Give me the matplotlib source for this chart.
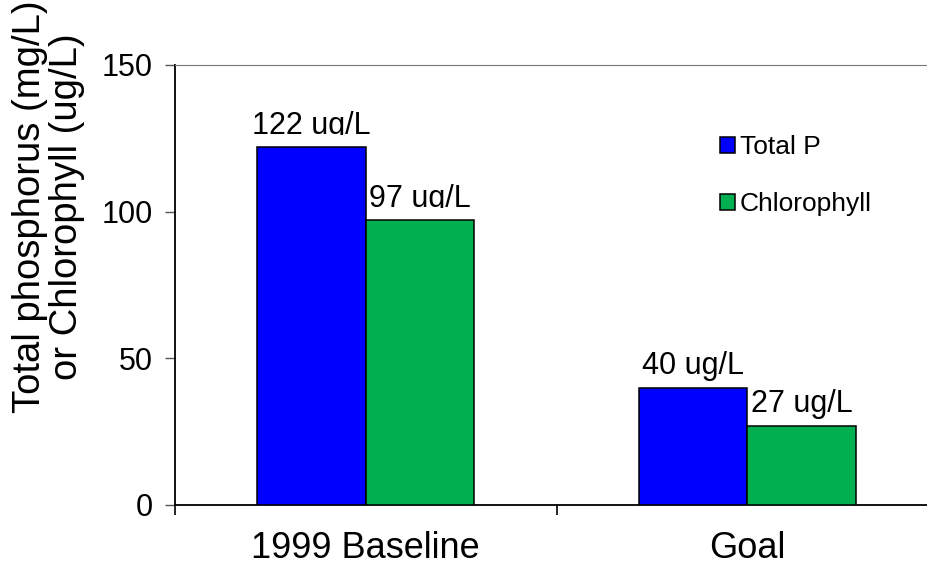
import matplotlib.pyplot as plt
import numpy as np
from matplotlib.transforms import Bbox, TransformedBbox

plt.rcParams['font.family'] = ['Liberation Sans', 'DejaVu Sans']

# Data
categories = ['1999 Baseline', 'Goal']
total_p = [122, 40]
chlorophyll = [97, 27]
series_names = ['Total P', 'Chlorophyll']
value_labels = [['122 ug/L', '40 ug/L'], ['97 ug/L', '27 ug/L']]
yticks = [0, 50, 100, 150]

colors = ['#0000FF', '#00B050']
width = 0.285

fig = plt.figure(figsize=(9.27, 5.67), dpi=100)
# axis runs past the right edge of the picture, as in the reference
ax = fig.add_axes([175 / 927, 62 / 567, (938 - 175) / 927, 440 / 567])

x = np.arange(len(categories))
for k, (vals, name) in enumerate(zip([total_p, chlorophyll], series_names)):
    offs = (k - 0.5) * width
    ax.bar(x + offs, vals, width, color=colors[k], edgecolor='black',
           linewidth=1.1, label=name, zorder=3)
    for i, v in enumerate(vals):
        t = ax.text(x[i] + offs, v + 4.6, value_labels[k][i], ha='center',
                    va='baseline', fontsize=22, zorder=2)
        if i == 0:
            # descenders are cut off in the reference for the first group
            cb = TransformedBbox(Bbox([[x[i] + offs - 0.4, v + 4.2],
                                       [x[i] + offs + 0.4, v + 30]]),
                                 ax.transData)
            t.set_clip_box(cb)
            t.set_clip_on(True)

ax.set_xlim(-0.5, 1.5)
ax.set_ylim(0, 150)
ax.set_yticks(yticks)
ax.set_xticks([-0.5, 0.5])
ax.set_xticklabels([])
ax.tick_params(axis='y', direction='out', length=7, width=1, color='#555555',
               labelsize=22, pad=9)
ax.tick_params(axis='x', direction='out', length=7, width=1.2, color='black')
for i, c in enumerate(categories):
    ax.text(x[i], -9, c, ha='center', va='top', fontsize=26)

ax.spines['right'].set_visible(False)
ax.spines['top'].set_color('#777777')
ax.spines['top'].set_linewidth(0.8)
ax.spines['left'].set_linewidth(1.3)
ax.spines['bottom'].set_linewidth(1.3)

fig.text(0.052, 1.0, 'Total phosphorus (mg/L)\nor Chlorophyll (ug/L)',
         rotation=90, ha='center', va='top', fontsize=27.5,
         multialignment='center', linespacing=1.05)

ax.legend(loc='upper left', bbox_to_anchor=(720 / 927, 1 - 135 / 567),
          bbox_transform=fig.transFigure, frameon=False, fontsize=19,
          handlelength=0.55, handleheight=0.55, handletextpad=0.2,
          labelspacing=1.25, borderpad=0, borderaxespad=0)

fig.savefig('out.png', dpi=100)
